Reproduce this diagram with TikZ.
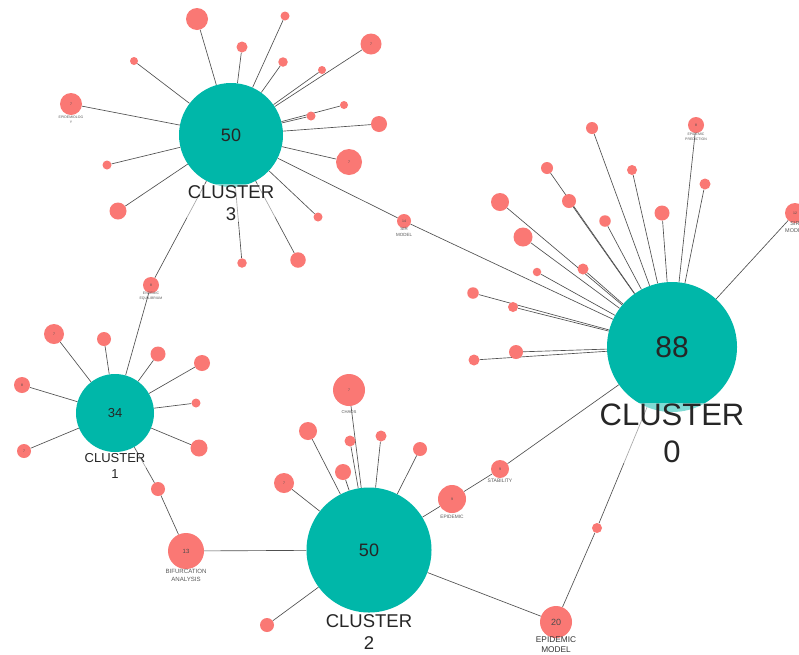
\documentclass[tikz,border=0pt]{standalone}
\usepackage{fontspec}
\setmainfont{Liberation Sans}
\definecolor{tealc}{RGB}{0,183,169}
\definecolor{redc}{RGB}{250,120,116}
\definecolor{edgec}{RGB}{80,80,80}
\pgfdeclarelayer{edges}
\pgfsetlayers{edges,main}
\begin{document}
\begin{tikzpicture}[x=1pt,y=-1pt]
\tikzset{
  cl/.style={circle, fill=tealc, inner sep=0pt, text=black!85},
  sat/.style={circle, fill=redc, inner sep=0pt, text=black!70, font=\fontsize{3.5}{4}\selectfont},
  edge/.style={draw=edgec, line width=0.65pt},
  cllab/.style={align=center, fill=white, fill opacity=0.5, text opacity=1, inner sep=1pt, text=black!85},
  tinylab/.style={align=center, text=black!65, inner sep=0pt, font=\fontsize{4.5}{5}\selectfont},
}
\useasboundingbox (0,0) rectangle (799,654);
\clip (0,0) rectangle (799,654);

% clusters
\node[cl, minimum size=104pt, font=\fontsize{18}{18}\selectfont] (c3) at (231,135) {50};
\node[cl, minimum size=130pt, font=\fontsize{30}{30}\selectfont] (c0) at (672,347) {88};
\node[cl, minimum size=78pt, font=\fontsize{13}{13}\selectfont] (c1) at (115,413) {34};
\node[cl, minimum size=125pt, font=\fontsize{18}{18}\selectfont] (c2) at (369,550) {50};

% cluster 3 satellites
\node[sat, minimum size=22pt] (a1) at (197,19) {};
\node[sat, minimum size=9pt] (a2) at (285,16) {};
\node[sat, minimum size=11pt] (a3) at (242,47) {};
\node[sat, minimum size=9.5pt] (a4) at (283,62) {};
\node[sat, minimum size=21pt] (a5) at (371,44) {7};
\node[sat, minimum size=8pt] (a6) at (322,70) {};
\node[sat, minimum size=8pt] (a7) at (134,61) {};
\node[sat, minimum size=22pt] (a8) at (71,104) {7};
\node[sat, minimum size=8pt] (a9) at (344,105) {};
\node[sat, minimum size=9pt] (a10) at (311,116) {};
\node[sat, minimum size=16pt] (a11) at (379,124) {};
\node[sat, minimum size=26pt] (a12) at (349,162) {7};
\node[sat, minimum size=9pt] (a13) at (107,165) {};
\node[sat, minimum size=17pt] (a14) at (118,211) {};
\node[sat, minimum size=9pt] (a15) at (318,217) {};
\node[sat, minimum size=15.5pt] (a16) at (298,260) {};
\node[sat, minimum size=9.5pt] (a17) at (242,263) {};
\node[sat, minimum size=14pt] (model) at (404,221) {14};

% cluster 0 satellites
\node[sat, minimum size=12pt] (b1) at (592,128) {};
\node[sat, minimum size=16pt] (b2) at (696,125) {8};
\node[sat, minimum size=12pt] (b3) at (547,168) {};
\node[sat, minimum size=10pt] (b4) at (632,170) {};
\node[sat, minimum size=11pt] (b5) at (705,184) {};
\node[sat, minimum size=18pt] (b6) at (500,202) {};
\node[sat, minimum size=14pt] (b7) at (569,201) {};
\node[sat, minimum size=15pt] (b8) at (662,213) {};
\node[sat, minimum size=20pt] (b9) at (795,213) {12};
\node[sat, minimum size=11.5pt] (b10) at (605,221) {};
\node[sat, minimum size=19pt] (b11) at (523,237) {};
\node[sat, minimum size=11pt] (b12) at (583,269) {};
\node[sat, minimum size=8.5pt] (b13) at (537,272) {};
\node[sat, minimum size=11.5pt] (b14) at (473,293) {};
\node[sat, minimum size=10pt] (b15) at (513,307) {};
\node[sat, minimum size=14pt] (b16) at (516,352) {};
\node[sat, minimum size=11pt] (b17) at (474,360) {};
\node[sat, minimum size=10pt] (b18) at (597,528) {};
\node[sat, minimum size=18pt] (stab) at (500,469) {9};
\node[sat, minimum size=28pt] (epi) at (452,499) {9};
\node[sat, minimum size=32pt, font=\fontsize{9}{9}\selectfont] (epimod) at (556,622) {20};

% cluster 1 satellites
\node[sat, minimum size=16pt] (d1) at (151,285) {8};
\node[sat, minimum size=20pt] (d2) at (54,334) {7};
\node[sat, minimum size=14pt] (d3) at (104,339) {};
\node[sat, minimum size=15pt] (d4) at (158,354) {};
\node[sat, minimum size=16pt] (d5) at (202,363) {};
\node[sat, minimum size=16pt] (d6) at (22,385) {8};
\node[sat, minimum size=9pt] (d7) at (196,403) {};
\node[sat, minimum size=17pt] (d8) at (199,448) {};
\node[sat, minimum size=14pt] (d9) at (24,451) {7};
\node[sat, minimum size=14pt] (d10) at (158,489) {};
\node[sat, minimum size=36pt, font=\fontsize{6}{6}\selectfont] (bif) at (186,551) {13};

% cluster 2 satellites
\node[sat, minimum size=32pt] (e1) at (349,390) {7};
\node[sat, minimum size=18pt] (e2) at (308,431) {};
\node[sat, minimum size=11pt] (e3) at (350,441) {};
\node[sat, minimum size=11pt] (e4) at (381,436) {};
\node[sat, minimum size=14pt] (e5) at (420,449) {};
\node[sat, minimum size=16pt] (e6) at (343,472) {};
\node[sat, minimum size=20pt] (e7) at (284,483) {7};
\node[sat, minimum size=14pt] (e8) at (267,625) {};

% edges (behind nodes)
\begin{pgfonlayer}{edges}
\fill[white] (0,0) rectangle (799,654);
\foreach \n in {a1,a2,a3,a4,a5,a6,a7,a8,a9,a10,a11,a12,a13,a14,a15,a16,a17,model,d1}
  \draw[edge] (c3) -- (\n);
\foreach \n in {b1,b2,b3,b4,b5,b6,b7,b8,b9,b10,b11,b12,b13,b14,b15,b16,b17,b18,stab,model}
  \draw[edge] (c0) -- (\n);
\foreach \n in {d1,d2,d3,d4,d5,d6,d7,d8,d9,d10}
  \draw[edge] (c1) -- (\n);
\foreach \n in {e1,e2,e3,e4,e5,e6,e7,e8,epi,bif,epimod}
  \draw[edge] (c2) -- (\n);
\draw[edge] (d10) -- (bif);
\draw[edge] (stab) -- (epi);
\draw[edge] (b18) -- (epimod);
\end{pgfonlayer}

% cluster labels
\node[cllab, font=\fontsize{18.5}{22}\selectfont] at (231,203) {CLUSTER\\3};
\node[cllab, font=\fontsize{31}{37}\selectfont] at (672,433) {CLUSTER\\0};
\node[cllab, font=\fontsize{13}{15.5}\selectfont] at (115,466) {CLUSTER\\1};
\node[cllab, font=\fontsize{18.5}{22}\selectfont] at (369,632) {CLUSTER\\2};

% small labels
\node[tinylab, font=\fontsize{3.5}{5}\selectfont] at (71,120) {EPIDEMIOLOG\\Y};
\node[tinylab, font=\fontsize{4.5}{6.5}\selectfont] at (404,232) {SIR\\MODEL};
\node[tinylab, font=\fontsize{3.5}{5}\selectfont] at (696,137) {EPIDEMIC\\PREDICTION};
\node[tinylab, font=\fontsize{5.5}{7.5}\selectfont] at (795,227) {SIR\\MODEL};
\node[tinylab, font=\fontsize{3.5}{5}\selectfont] at (151,296.5) {ENDEMIC\\EQUILIBRIUM};
\node[tinylab, font=\fontsize{4.2}{5}\selectfont] at (349,412) {CHAOS};
\node[tinylab, font=\fontsize{5}{6}\selectfont] at (500,481) {STABILITY};
\node[tinylab, font=\fontsize{4.8}{6}\selectfont] at (452,516.5) {EPIDEMIC};
\node[tinylab, font=\fontsize{6.1}{8}\selectfont] at (186,575) {BIFURCATION\\ANALYSIS};
\node[tinylab, font=\fontsize{8.3}{10}\selectfont, text=black!80] at (556,644.5) {EPIDEMIC\\MODEL};
\end{tikzpicture}
\end{document}
